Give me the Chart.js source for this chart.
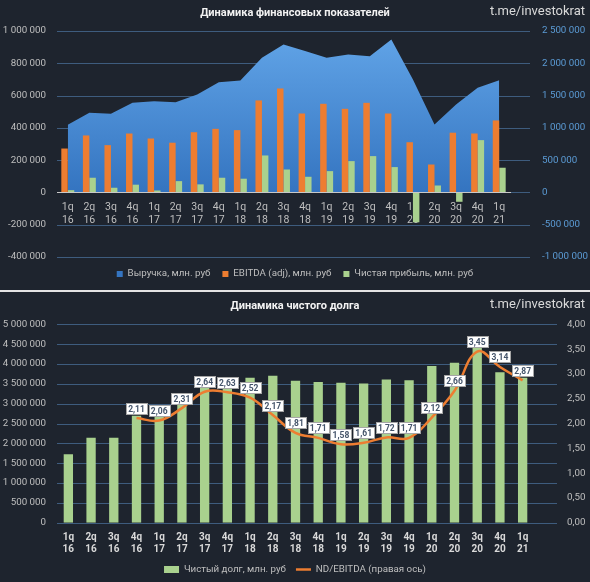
<!DOCTYPE html>
<html>
<head>
<meta charset="utf-8">
<script src="https://cdn.jsdelivr.net/npm/chart.js@4.4.0/dist/chart.umd.min.js"></script>
<style>
  body { margin: 0; background: #1e242e; width: 590px; height: 582px; overflow: hidden; }
  .box { position: relative; width: 590px; height: 290px; }
  .box canvas { display: block; }
  .sep { height: 2px; background: #e4e4e4; }
</style>
</head>
<body>
<div class="box"><canvas id="finChart"></canvas></div>
<div class="sep"></div>
<div class="box"><canvas id="debtChart"></canvas></div>
<script>
// кварталы
const quarters = [
  ['1q','16'],['2q','16'],['3q','16'],['4q','16'],
  ['1q','17'],['2q','17'],['3q','17'],['4q','17'],
  ['1q','18'],['2q','18'],['3q','18'],['4q','18'],
  ['1q','19'],['2q','19'],['3q','19'],['4q','19'],
  ['1q','20'],['2q','20'],['3q','20'],['4q','20'],
  ['1q','21']
];

// финансовые показатели, млн. руб
const revenue   = [1050000,1234000,1218000,1388000,1413000,1398000,1517000,1707000,1734000,2085000,2291000,2190000,2085000,2136000,2110000,2368000,1749000,1053000,1362000,1621000,1739000];
const ebitda    = [272000,353000,293000,365000,334000,308000,373000,394000,386000,570000,644000,489000,549000,518000,555000,489000,311000,173000,370000,365000,446000];
const netProfit = [14000,91000,29000,48000,12000,70000,50000,91000,85000,229000,142000,97000,132000,194000,225000,157000,-185000,43000,-58000,324000,153000];

// чистый долг и ND/EBITDA
const netDebt  = [1724000,2142000,2142000,2697000,2750000,3090000,3550000,3600000,3654000,3705000,3580000,3546000,3530000,3510000,3610000,3590000,3950000,4030000,4400000,3790000,3650000];
const ndEbitda = [null,null,null,2.11,2.06,2.31,2.64,2.63,2.52,2.17,1.81,1.71,1.58,1.61,1.72,1.71,2.12,2.66,3.45,3.14,2.87];

const GRID = '#3e5c7e';
const AXIS_TXT = '#bfbfbf';
const FONT = "Roboto, 'Open Sans', sans-serif";

Chart.defaults.font.family = FONT;
Chart.defaults.font.size = 9.75;
Chart.defaults.color = AXIS_TXT;

const fmt = v => String(Math.round(v)).replace(/\B(?=(\d{3})+(?!\d))/g, ' ');

// ширина оси фиксирована, вертикальный отступ от подписей убираем
// (иначе padding подписей сдвигает область графика)
const fixAxis = w => s => { s.width = w; s.paddingTop = 0; s.paddingBottom = 0; };

// горизонтальные линии сетки, продлены вправо как в Excel
const gridLines = {
  id: 'gridLines',
  beforeDatasetsDraw(chart, args, opts) {
    const s = chart.scales.y, a = chart.chartArea, ctx = chart.ctx;
    ctx.save();
    ctx.strokeStyle = opts.color;
    ctx.lineWidth = 1;
    s.ticks.forEach(t => {
      const y = Math.round(s.getPixelForValue(t.value)) + 0.5;
      ctx.beginPath();
      ctx.moveTo(a.left, y);
      ctx.lineTo(opts.right, y);
      ctx.stroke();
    });
    ctx.restore();
  }
};

// заголовок и подпись канала
const header = {
  id: 'header',
  afterDraw(chart, args, opts) {
    const ctx = chart.ctx;
    ctx.save();
    ctx.textBaseline = 'middle';
    ctx.fillStyle = '#f2f2f2';
    ctx.font = 'bold 11px ' + FONT;
    ctx.textAlign = 'center';
    ctx.fillText(opts.title, 295, opts.y);
    ctx.fillStyle = '#d9d9d9';
    ctx.font = '13px ' + FONT;
    ctx.textAlign = 'right';
    ctx.fillText('t.me/investokrat', 585, opts.y - 1);
    ctx.restore();
  }
};

// подписи значений ND/EBITDA в белых рамках
const valueLabels = {
  id: 'valueLabels',
  afterDatasetsDraw(chart, args, opts) {
    const ctx = chart.ctx;
    const meta = chart.getDatasetMeta(opts.datasetIndex);
    const data = chart.data.datasets[opts.datasetIndex].data;
    ctx.save();
    ctx.font = 'bold 8.5px ' + FONT;
    ctx.textAlign = 'center';
    ctx.textBaseline = 'middle';
    meta.data.forEach((pt, i) => {
      if (data[i] == null) return;
      const txt = data[i].toFixed(2).replace('.', ',');
      const w = Math.round(ctx.measureText(txt).width + 4), h = 11;
      const x0 = Math.round(pt.x - w / 2), y0 = Math.round(pt.y - 10 - h / 2);
      ctx.fillStyle = '#ffffff';
      ctx.fillRect(x0, y0, w, h);
      ctx.strokeStyle = '#a6a6a6';
      ctx.lineWidth = 1;
      ctx.strokeRect(x0 + 0.5, y0 + 0.5, w, h);
      ctx.fillStyle = '#44546a';
      ctx.fillText(txt, pt.x, y0 + h / 2 + 1);
    });
    ctx.restore();
  }
};

function revenueFill(c) {
  const a = c.chart.chartArea;
  if (!a) return '#4a8ad2';
  const y0 = c.chart.scales.y1.getPixelForValue(0);
  const g = c.chart.ctx.createLinearGradient(0, a.top, 0, y0);
  g.addColorStop(0, '#62a5e8');
  g.addColorStop(1, '#3474c0');
  return g;
}

new Chart(document.getElementById('finChart'), {
  data: {
    labels: quarters,
    datasets: [
      {
        type: 'line',
        label: 'Выручка, млн. руб',
        data: revenue,
        yAxisID: 'y1',
        order: 3,
        fill: 'origin',
        backgroundColor: revenueFill,
        borderWidth: 0,
        pointRadius: 0,
        tension: 0
      },
      {
        type: 'bar',
        label: 'EBITDA (adj), млн. руб',
        data: ebitda,
        yAxisID: 'y',
        order: 1,
        backgroundColor: '#ed7d31',
        categoryPercentage: 0.6,
        barPercentage: 1
      },
      {
        type: 'bar',
        label: 'Чистая прибыль, млн. руб',
        data: netProfit,
        yAxisID: 'y',
        order: 2,
        backgroundColor: '#a9d18e',
        categoryPercentage: 0.6,
        barPercentage: 1
      }
    ]
  },
  options: {
    responsive: true,
    maintainAspectRatio: false,
    animation: false,
    layout: { padding: { top: 31, bottom: 1.25, left: 0, right: 0 } },
    scales: {
      x: {
        position: { y: 0 },
        grid: { display: false, drawTicks: false },
        border: { display: true, color: '#c8c8c8', width: 1, z: 1 },
        ticks: { color: AXIS_TXT, font: { size: 10.5, lineHeight: 1.24 }, padding: 8, maxRotation: 0, autoSkip: false }
      },
      y: {
        position: 'left',
        min: -400000, max: 1000000,
        grid: { display: false, drawTicks: false },
        border: { display: false },
        ticks: { stepSize: 200000, color: AXIS_TXT, padding: 11, callback: fmt },
        afterFit: fixAxis(57)
      },
      y1: {
        position: 'right',
        min: -1000000, max: 2500000,
        grid: { display: false, drawTicks: false },
        border: { display: false },
        ticks: { stepSize: 500000, color: '#5b9bd5', padding: 32, callback: fmt },
        afterFit: fixAxis(80)
      }
    },
    plugins: {
      legend: {
        position: 'bottom',
        labels: {
          color: AXIS_TXT,
          boxWidth: 6, boxHeight: 6,
          padding: 12,
          sort: (a, b) => a.datasetIndex - b.datasetIndex
        }
      },
      tooltip: { enabled: false },
      gridLines: { color: GRID, right: 530 },
      header: { title: 'Динамика финансовых показателей', y: 13 }
    }
  },
  plugins: [gridLines, header]
});

new Chart(document.getElementById('debtChart'), {
  data: {
    labels: quarters,
    datasets: [
      {
        type: 'bar',
        label: 'Чистый долг, млн. руб',
        data: netDebt,
        yAxisID: 'y',
        order: 2,
        backgroundColor: '#a9d18e',
        pointStyle: 'rect',
        barPercentage: 0.41,
        categoryPercentage: 1
      },
      {
        type: 'line',
        label: 'ND/EBITDA (правая ось)',
        data: ndEbitda,
        yAxisID: 'y1',
        order: 1,
        borderColor: '#ed7d31',
        backgroundColor: '#ed7d31',
        borderWidth: 2.5,
        pointRadius: 0,
        pointStyle: 'line',
        tension: 0.4
      }
    ]
  },
  options: {
    responsive: true,
    maintainAspectRatio: false,
    animation: false,
    layout: { padding: { top: 32.3, bottom: -2.45, left: 0, right: 0 } },
    scales: {
      x: {
        grid: { display: false, drawTicks: false },
        border: { display: false },
        ticks: { color: '#d9d9d9', font: { size: 10, weight: 'bold', lineHeight: 1.15 }, padding: 9.5, maxRotation: 0, autoSkip: false },
        afterFit(s) { s.height = 32; }
      },
      y: {
        position: 'left',
        min: 0, max: 5000000,
        grid: { display: false, drawTicks: false },
        border: { display: false },
        ticks: { stepSize: 500000, color: AXIS_TXT, padding: 11, callback: fmt },
        afterFit: fixAxis(57)
      },
      y1: {
        position: 'right',
        min: 0, max: 4,
        grid: { display: false, drawTicks: false },
        border: { display: false },
        ticks: { stepSize: 0.5, color: AXIS_TXT, padding: 33, callback: v => v.toFixed(2).replace('.', ',') },
        afterFit: fixAxis(56)
      }
    },
    plugins: {
      legend: {
        position: 'bottom',
        labels: {
          color: AXIS_TXT,
          usePointStyle: true,
          pointStyleWidth: 15,
          boxHeight: 7,
          padding: 10,
          sort: (a, b) => a.datasetIndex - b.datasetIndex
        }
      },
      tooltip: { enabled: false },
      gridLines: { color: GRID, right: 557 },
      header: { title: 'Динамика чистого долга', y: 14 },
      valueLabels: { datasetIndex: 1 }
    }
  },
  plugins: [gridLines, header, valueLabels]
});
</script>
</body>
</html>
